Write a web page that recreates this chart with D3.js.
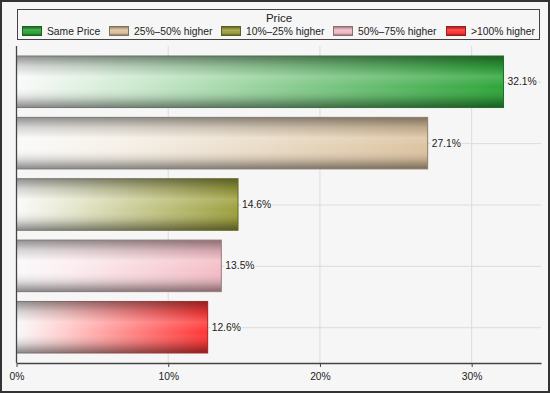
<!DOCTYPE html>
<html>
<head>
<meta charset="utf-8">
<script src="https://cdn.jsdelivr.net/npm/d3@7"></script>
<style>
  body { margin: 0; background: #fff; }
  svg { display: block; font-family: "Liberation Sans", Arial, sans-serif; }
</style>
</head>
<body>
<div id="chart"></div>
<script>
// data
const categories = ["Same Price", "25%\u201350% higher", "10%\u201325% higher", "50%\u201375% higher", ">100% higher"];
const values = [32.1, 27.1, 14.6, 13.5, 12.6];
const colors = ["#2ea53a", "#dcc3a0", "#9ca03c", "#f3bcc5", "#ff3535"];
const xTicks = [0, 10, 20, 30];

const width = 550, height = 393;
const margin = { top: 46, right: 9, bottom: 30, left: 16.5 };
const fontSize = 10.3;

const svg = d3.select("#chart").append("svg")
    .attr("width", width)
    .attr("height", height);

svg.append("rect")
    .attr("x", 1).attr("y", 1)
    .attr("width", width - 2).attr("height", height - 2)
    .attr("fill", "#f6f6f6")
    .attr("stroke", "#333")
    .attr("stroke-width", 2);

const defs = svg.append("defs");

// horizontal fade white -> colour, one per series
colors.forEach((c, i) => {
    const g = defs.append("linearGradient")
        .attr("id", "hg" + i)
        .attr("x1", 0).attr("x2", 1).attr("y1", 0).attr("y2", 0);
    g.append("stop").attr("offset", 0).attr("stop-color", "#fafafa");
    g.append("stop").attr("offset", 0.25).attr("stop-color", d3.interpolateRgb("#fff", c)(0.25));
    g.append("stop").attr("offset", 0.6).attr("stop-color", d3.interpolateRgb("#fff", c)(0.6));
    g.append("stop").attr("offset", 1).attr("stop-color", c);

    const s = defs.append("linearGradient")
        .attr("id", "sg" + i)
        .attr("x1", 0).attr("x2", 1).attr("y1", 0).attr("y2", 0);
    s.append("stop").attr("offset", 0).attr("stop-color", "#777");
    s.append("stop").attr("offset", 1).attr("stop-color", d3.color(c).darker(1.2));
});

// vertical shading for the tube look
const vg = defs.append("linearGradient")
    .attr("id", "vshade")
    .attr("x1", 0).attr("x2", 0).attr("y1", 0).attr("y2", 1);
[[0, "#000", 0.42], [0.2, "#000", 0.14], [0.4, "#fff", 0.15], [0.6, "#fff", 0.0],
 [0.82, "#000", 0.14], [1, "#000", 0.45]].forEach(s => {
    vg.append("stop").attr("offset", s[0]).attr("stop-color", s[1]).attr("stop-opacity", s[2]);
});

const x = d3.scaleLinear()
    .domain([0, 34.57])
    .range([margin.left, width - margin.right]);

const y = d3.scaleBand()
    .domain(categories)
    .range([margin.top, height - margin.bottom])
    .paddingInner(0.16)
    .paddingOuter(0.163);

const plot = svg.append("g");

// grid
plot.selectAll("line.vgrid")
    .data(xTicks.slice(1))
    .join("line")
    .attr("x1", d => x(d)).attr("x2", d => x(d))
    .attr("y1", margin.top).attr("y2", height - margin.bottom)
    .attr("stroke", "#dcdcdc");

plot.selectAll("line.hgrid")
    .data(categories)
    .join("line")
    .attr("x1", margin.left).attr("x2", width - margin.right)
    .attr("y1", d => y(d) + y.bandwidth() / 2 + 0.5)
    .attr("y2", d => y(d) + y.bandwidth() / 2 + 0.5)
    .attr("stroke", "#dcdcdc");

// bars
const bars = plot.selectAll("g.bar")
    .data(values)
    .join("g")
    .attr("class", "bar");

bars.append("rect")
    .attr("x", x(0))
    .attr("y", (d, i) => y(categories[i]))
    .attr("width", d => x(d) - x(0))
    .attr("height", y.bandwidth())
    .attr("fill", (d, i) => `url(#hg${i})`);

bars.append("rect")
    .attr("x", x(0))
    .attr("y", (d, i) => y(categories[i]))
    .attr("width", d => x(d) - x(0))
    .attr("height", y.bandwidth())
    .attr("fill", "url(#vshade)")
    .attr("stroke", (d, i) => `url(#sg${i})`)
    .attr("stroke-width", 1);

// value labels with a background to cut the grid line
const labels = bars.append("g")
    .attr("transform", (d, i) => `translate(${x(d) + 4},${y(categories[i]) + y.bandwidth() / 2})`);

labels.append("text")
    .attr("dy", "0.35em")
    .attr("font-size", fontSize)
    .attr("fill", "#222")
    .text(d => d.toFixed(1) + "%")
    .each(function() {
        const b = this.getBBox();
        d3.select(this.parentNode).insert("rect", "text")
            .attr("x", b.x - 1).attr("y", b.y)
            .attr("width", b.width + 2).attr("height", b.height)
            .attr("fill", "#f6f6f6");
    });

// axes
const xAxis = d3.axisBottom(x)
    .tickValues(xTicks)
    .tickFormat(d => d + "%")
    .tickSize(4)
    .tickSizeOuter(0);

const gx = svg.append("g")
    .attr("transform", `translate(0,${height - margin.bottom})`)
    .call(xAxis);
gx.select(".domain").attr("stroke", "#444").attr("stroke-width", 1.3);
gx.selectAll(".tick line").attr("stroke", "#444");
gx.selectAll(".tick text")
    .attr("font-family", "Liberation Sans, Arial, sans-serif")
    .attr("font-size", fontSize).attr("fill", "#222").attr("dy", "0.95em");

svg.append("line")
    .attr("x1", margin.left).attr("x2", margin.left)
    .attr("y1", margin.top).attr("y2", height - margin.bottom)
    .attr("stroke", "#444").attr("stroke-width", 1.3);

// legend
const legend = svg.append("g");
legend.append("rect")
    .attr("x", 17.5).attr("y", 9.5)
    .attr("width", 522).attr("height", 30)
    .attr("fill", "none").attr("stroke", "#444");

legend.append("text")
    .attr("x", 279).attr("y", 17.5)
    .attr("dy", "0.35em")
    .attr("text-anchor", "middle")
    .attr("font-size", 11.5).attr("fill", "#222")
    .text("Price");

const legendX = [22, 109, 221, 333, 446];
const items = legend.selectAll("g.item")
    .data(categories)
    .join("g")
    .attr("transform", (d, i) => `translate(${legendX[i]},26)`);

items.append("rect")
    .attr("width", 19).attr("height", 9)
    .attr("y", 0.5).attr("x", 0.5)
    .attr("fill", (d, i) => colors[i]);
items.append("rect")
    .attr("width", 19).attr("height", 9)
    .attr("y", 0.5).attr("x", 0.5)
    .attr("fill", "url(#vshade)")
    .attr("stroke", (d, i) => d3.color(colors[i]).darker(1.5));
items.append("text")
    .attr("x", 25).attr("y", 5)
    .attr("dy", "0.35em")
    .attr("font-size", fontSize).attr("fill", "#222")
    .text(d => d);
</script>
</body>
</html>
